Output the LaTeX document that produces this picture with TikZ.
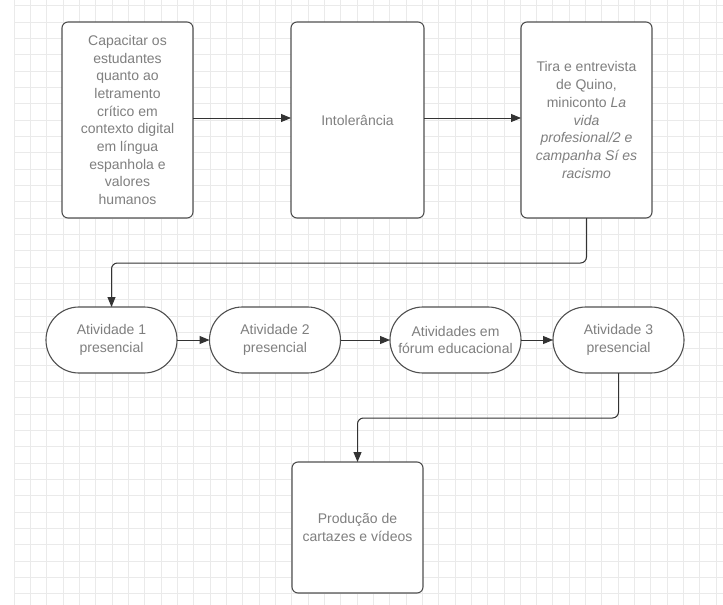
\documentclass[tikz,border=0pt]{standalone}
\usepackage{fontspec}
\setmainfont{Liberation Sans}
\usetikzlibrary{arrows.meta}
\definecolor{txt}{HTML}{7F7F7F}
\definecolor{ln}{HTML}{505050}
\definecolor{arr}{HTML}{333333}
\definecolor{gridc}{HTML}{EAEAEA}
\begin{document}
\begin{tikzpicture}[x=1pt,y=-1pt,
  basebox/.style={draw=ln, line width=1.1pt, fill=white, text=txt,
    font=\fontsize{14}{17.7}\selectfont, align=center, inner sep=0pt, outer sep=0pt},
  box/.style={basebox, rounded corners=6pt, minimum width=131pt, minimum height=196pt},
  endbox/.style={basebox, rounded corners=6pt, minimum width=131pt, minimum height=131pt},
  pill/.style={basebox, rounded corners=32.9pt, minimum width=131pt, minimum height=66pt},
  conn/.style={draw=arr, line width=1pt, -{Triangle[length=10pt,width=8pt]}},
  gridline/.style={draw=gridc, line width=0.8pt}]
\useasboundingbox (0,0) rectangle (723,605);
\fill[white] (0,0) rectangle (723,605);
\foreach \k in {0,...,43} {\draw[gridline] ({14+\k*16.33},0) -- ({14+\k*16.33},605);}
\foreach \k in {0,...,36} {\draw[gridline] (14,{5.7+\k*16.33}) -- (723,{5.7+\k*16.33});}

\node[box] (b1) at (127.5,120) {Capacitar os\\estudantes\\quanto ao\\letramento\\crítico em\\contexto digital\\em língua\\espanhola e\\valores\\humanos};
\node[box, minimum width=133pt] (b2) at (357.5,120) {Intolerância};
\node[box] (b3) at (586.5,120) {Tira e entrevista\\de Quino,\\miniconto \textit{La}\\\textit{vida}\\\textit{profesional/2 e}\\\textit{campanha Sí es}\\\textit{racismo}};

\node[pill] (s1) at (111.5,340) {Atividade 1\\presencial};
\node[pill] (s2) at (275,340) {Atividade 2\\presencial};
\node[pill] (s3) at (455.5,340) {Atividades em\\fórum educacional};
\node[pill] (s4) at (618.5,340) {Atividade 3\\presencial};

\node[endbox] (b5) at (357.5,527.5) {Produção de\\cartazes e vídeos};

\draw[conn] (b1.east |- 0,118) -- (b2.west |- 0,118);
\draw[conn] (b2.east |- 0,118) -- (b3.west |- 0,118);
\draw[conn, rounded corners=6pt] (b3.south) -- (b3.south |- 0,263) -| (s1.north);
\draw[conn] (s1.east) -- (s2.west);
\draw[conn] (s2.east) -- (s3.west);
\draw[conn] (s3.east) -- (s4.west);
\draw[conn, rounded corners=6pt] (s4.south) -- (s4.south |- 0,418) -| (b5.north);
\end{tikzpicture}
\end{document}
